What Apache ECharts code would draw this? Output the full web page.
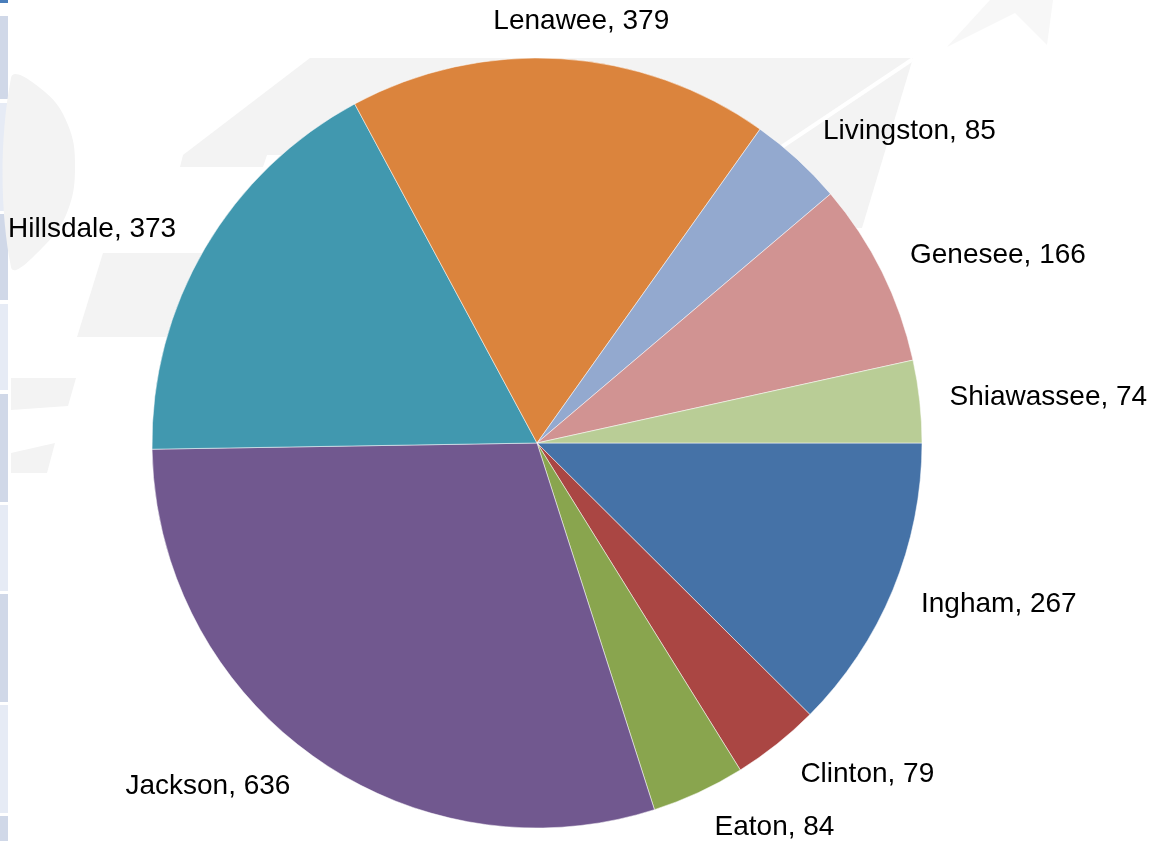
<!DOCTYPE html>
<html>
<head>
<meta charset="utf-8">
<script src="https://cdn.jsdelivr.net/npm/echarts@6/dist/echarts.min.js"></script>
<style>
html,body{margin:0;padding:0;background:#fff;}
#chart{width:1167px;height:841px;}
</style>
</head>
<body>
<div id="chart"></div>
<script>
const categories = ['Ingham','Clinton','Eaton','Jackson','Hillsdale','Lenawee','Livingston','Genesee','Shiawassee'];
const values = [267, 79, 84, 636, 373, 379, 85, 166, 74];
const colors = ['#4572A7','#AA4643','#89A54E','#71588F','#4198AF','#DB843D','#93A9CF','#D19392','#B9CD96'];

// label layout tweaks (style, not data): horizontal nudge in px via labelLine length2
const labelNudge = {Lenawee:-70, Genesee:-6, Shiawassee:-8, Ingham:-7, Hillsdale:-4};

const chart = echarts.init(document.getElementById('chart'), null, {renderer:'canvas'});

const wm = '#f3f3f3';
const strip = [
  [16,99,'#d0d8e8'],[103,211,'#e6ebf5'],[214,300,'#d0d8e8'],[304,390,'#e6ebf5'],
  [394,502,'#d0d8e8'],[505,591,'#e6ebf5'],[594,702,'#d0d8e8'],[705,813,'#e6ebf5'],[816,841,'#d0d8e8']
];
const graphics = [];
strip.forEach(s => graphics.push({type:'rect', shape:{x:0,y:s[0],width:8,height:s[1]-s[0]}, style:{fill:s[2]}, silent:true}));
graphics.push({type:'rect', shape:{x:0,y:0,width:8,height:3}, style:{fill:'#4a7ebb'}, silent:true});
// watermark shapes (decoration)
graphics.push({type:'polygon', shape:{points:[[310,58],[913,58],[862,228],[560,228],[560,155],[183,155]]}, style:{fill:wm}, silent:true});
graphics.push({type:'polygon', shape:{points:[[183,155],[267,155],[263,167],[180,167]]}, style:{fill:wm}, silent:true});
graphics.push({type:'line', shape:{x1:913,y1:59,x2:780,y2:148}, style:{stroke:'#fff',lineWidth:4}, silent:true});
graphics.push({type:'polygon', shape:{points:[[990,0],[1053,0],[1047,45],[1015,13],[947,47]]}, style:{fill:'#f7f7f7'}, silent:true});
graphics.push({type:'polygon', shape:{points:[[11,78],[45,92],[68,125],[75,165],[68,210],[45,245],[11,267]], smooth:0.4}, style:{fill:wm}, silent:true});
graphics.push({type:'polygon', shape:{points:[[103,253],[400,253],[400,337],[77,337]]}, style:{fill:wm}, silent:true});
graphics.push({type:'polygon', shape:{points:[[11,378],[76,378],[68,406],[11,410]]}, style:{fill:wm}, silent:true});
graphics.push({type:'polygon', shape:{points:[[11,453],[55,443],[47,473],[11,473]]}, style:{fill:wm}, silent:true});

chart.setOption({
  animation:false,
  backgroundColor:'#ffffff',
  graphic: graphics,
  series:[{
    type:'pie',
    center:[537,443],
    radius:385,
    startAngle:0,
    clockwise:true,
    avoidLabelOverlap:false,
    silent:true,
    emphasis:{disabled:true},
    itemStyle:{borderColor:'#ffffff', borderWidth:0.5},
    label:{
      show:true,
      position:'outside',
      formatter:'{b}, {c}',
      color:'#000000',
      fontSize:28,
      fontFamily:'Liberation Sans, Arial, sans-serif',
      distanceToLabelLine:0,
      bleedMargin:0,
      overflow:'none',
      padding:[6,0,0,0]
    },
    labelLine:{show:false, length:38, length2:0},
    data: categories.map((c,i)=>{
      const item = {name:c, value:values[i], itemStyle:{color:colors[i]}};
      if (labelNudge[c] !== undefined) item.labelLine = {show:false, length:38, length2:labelNudge[c]};
      return item;
    })
  }]
});
</script>
</body>
</html>
